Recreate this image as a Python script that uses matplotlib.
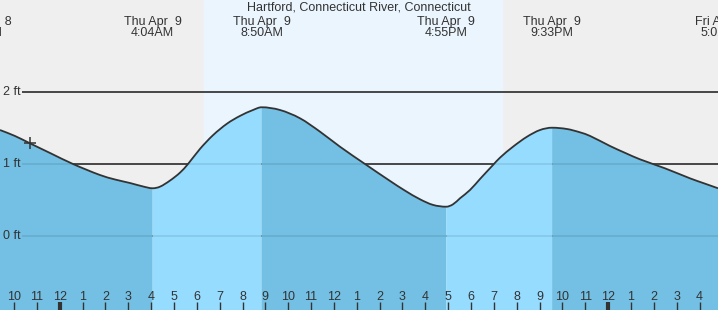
import matplotlib
matplotlib.use('Agg')
import numpy as np
import matplotlib.pyplot as plt
from matplotlib.path import Path
from matplotlib.patches import PathPatch

plt.rcParams['font.family'] = ['Liberation Sans', 'DejaVu Sans']

# tide curve, hours from midnight Thu Apr 9, height in ft
hours = [-2.613, -1.956, -1.300, -0.424, 0.582, 1.764, 2.420, 3.077, 3.646, 4.067,
         4.389, 4.827, 5.265, 5.615, 6.140, 6.709, 7.322, 7.891, 8.460, 8.833,
         9.641, 10.516, 11.392, 12.267, 13.361, 14.455, 15.112, 15.768, 16.337, 16.917,
         17.212, 17.519, 17.956, 18.394, 18.963, 19.269, 19.838, 20.451, 21.020, 21.550,
         22.201, 22.770, 23.208, 24.083, 24.740, 25.396, 26.490, 27.584, 28.221, 28.810]
feet = [1.472, 1.389, 1.287, 1.153, 1.000, 0.847, 0.785, 0.736, 0.688, 0.663,
        0.685, 0.770, 0.880, 1.000, 1.210, 1.400, 1.560, 1.668, 1.750, 1.788,
        1.750, 1.635, 1.449, 1.240, 1.000, 0.765, 0.630, 0.510, 0.432, 0.407,
        0.440, 0.524, 0.639, 0.792, 0.986, 1.088, 1.240, 1.379, 1.472, 1.504,
        1.486, 1.440, 1.390, 1.250, 1.155, 1.065, 0.940, 0.801, 0.729, 0.663]

# high / low events
event_hours = [-3.44, 4.067, 8.833, 16.917, 21.55, 29.0]
event_dates = ['Wed Apr  8', 'Thu Apr  9', 'Thu Apr  9', 'Thu Apr  9', 'Thu Apr  9', 'Fri Apr 10']
event_times = ['8:34PM', '4:04AM', '8:50AM', '4:55PM', '9:33PM', '5:02AM']

sunrise, sunset = 6.31, 19.36
now_hour, now_ft = -1.300, 1.287

tick_hours = list(range(-2, 29))
tick_labels = ['10', '11', '12', '1', '2', '3', '4', '5', '6', '7', '8', '9', '10', '11', '12',
               '1', '2', '3', '4', '5', '6', '7', '8', '9', '10', '11', '12', '1', '2', '3', '4']
grid_ft = [2, 1, 0]
title = 'Hartford, Connecticut River, Connecticut'

# pixel helpers (72 px per ft, 0 ft at y=236; 22.85 px per hour, 10pm at x=14)
def py(y):
    return (236 - y) / 72.0
def hx(x):
    return -2 + (x - 14) / 22.85

h = np.array(hours)
f = np.array(feet)
n = len(h)

# slopes for a smooth (bezier) rendering of the read points, flat at highs/lows
slope = np.zeros(n)
for i in range(n):
    a, b = max(i - 1, 0), min(i + 1, n - 1)
    slope[i] = (f[b] - f[a]) / (h[b] - h[a])
    if any(abs(h[i] - e) < 1e-6 for e in event_hours):
        slope[i] = 0.0

def curve_verts(i0, i1):
    verts = [(h[i0], f[i0])]
    codes = [Path.MOVETO]
    for i in range(i0, i1):
        dx = (h[i + 1] - h[i]) / 3
        verts += [(h[i] + dx, f[i] + slope[i] * dx),
                  (h[i + 1] - dx, f[i + 1] - slope[i + 1] * dx),
                  (h[i + 1], f[i + 1])]
        codes += [Path.CURVE4] * 3
    return verts, codes

fig = plt.figure(figsize=(7.18, 3.10), dpi=100)
ax = fig.add_axes([0, 0, 1, 1])
ax.set_xlim(hx(0), hx(718))
ax.set_ylim(py(310), py(0))
ax.axis('off')

# night / day background
ax.axvspan(hx(0), hx(718), color='#efefef', zorder=0)
ax.axvspan(sunrise, sunset, color='#ebf5fe', zorder=0)

txt = '#333333'
for g in grid_ft:
    ax.hlines(g, hx(22), hx(718), color=txt, lw=1.2, zorder=1)
    ax.text(hx(3), g, '%d ft' % g, ha='left', va='center', fontsize=9, color=txt, zorder=6)

# falling tide darker, rising tide lighter
idx = [0] + [int(np.argmin(abs(h - e))) for e in event_hours[1:5]] + [n - 1]
colors = ['#73c0e4', '#96dcff', '#73c0e4', '#96dcff', '#73c0e4']
bottom = py(312)
for k in range(len(idx) - 1):
    v, c = curve_verts(idx[k], idx[k + 1])
    v += [(h[idx[k + 1]], bottom), (h[idx[k]], bottom), (h[idx[k]], f[idx[k]])]
    c += [Path.LINETO, Path.LINETO, Path.CLOSEPOLY]
    ax.add_patch(PathPatch(Path(v, c), facecolor=colors[k], lw=0, zorder=2))

for g in grid_ft:
    ax.hlines(g, hx(22), hx(718), color='black', alpha=0.1, lw=1.2, zorder=3)

v, c = curve_verts(0, n - 1)
ax.add_patch(PathPatch(Path(v, c), facecolor='none', edgecolor=txt, lw=1.3, zorder=4))
ax.plot([now_hour], [now_ft], marker='+', ms=9, mew=1.1, color=txt, zorder=5)

ax.text(hx(359), py(7.5), title, ha='center', va='center', fontsize=9, color=txt)
for eh, ed, et in zip(event_hours, event_dates, event_times):
    ax.text(eh, py(25), ed, ha='center', va='baseline', fontsize=9, color=txt)
    ax.text(eh, py(36), et, ha='center', va='baseline', fontsize=9, color=txt)

for th, tl in zip(tick_hours, tick_labels):
    lw = 3 if th % 24 == 0 else 1
    ax.vlines(th, py(302), py(310), color=txt, lw=lw, zorder=5)
    ax.text(th, py(300), tl, ha='center', va='baseline', fontsize=9, color=txt, zorder=5)

fig.savefig('out.png', dpi=100)
